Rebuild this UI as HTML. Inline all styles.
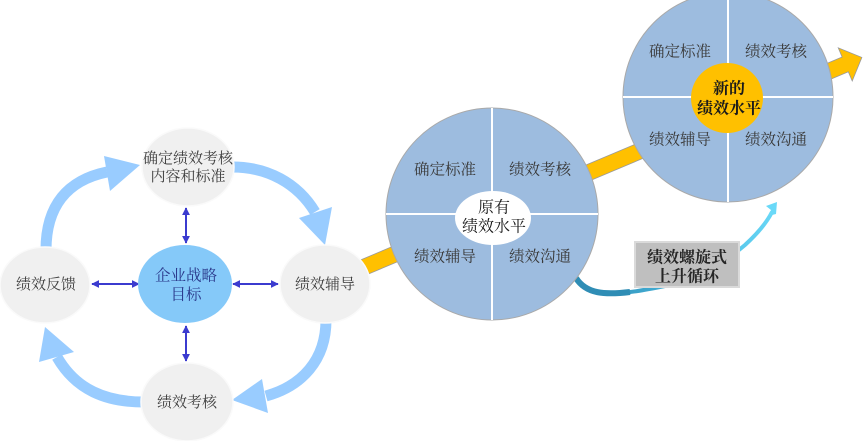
<!DOCTYPE html>
<html>
<head>
<meta charset="utf-8">
<style>
  html, body { margin:0; padding:0; background:#ffffff; }
  body { width:864px; height:441px; overflow:hidden; }
  svg { display:block; }
  text { font-family: "Liberation Serif", "Noto Serif CJK SC", serif; }
</style>
</head>
<body>
<svg width="864" height="441" viewBox="0 0 864 441" xmlns="http://www.w3.org/2000/svg">
  <defs>
    <linearGradient id="teal" x1="575" y1="280" x2="778" y2="205" gradientUnits="userSpaceOnUse">
      <stop offset="0" stop-color="#2f8db5"/>
      <stop offset="0.5" stop-color="#49b8de"/>
      <stop offset="1" stop-color="#6ad9f8"/>
    </linearGradient>
    <marker id="ah" viewBox="0 0 10 10" refX="9" refY="5" markerWidth="4" markerHeight="4" orient="auto-start-reverse">
      <path d="M0,0 L10,5 L0,10 Z" fill="#3b3bcf"/>
    </marker>
  </defs>

  <!-- Yellow band arrow -->
  <g transform="translate(355,271) rotate(-22.85)">
    <polygon points="0,-8 532,-8 532,-18 550,0 532,18 532,8 0,8" fill="#ffc000" stroke="#9a9a9a" stroke-width="0.8"/>
  </g>

  <!-- Light blue cycle arcs -->
  <g fill="none" stroke="#99ccff" stroke-width="11">
    <path d="M46,250 C46,205 68,180 107,172"/>
    <path d="M229,167 C268,166 298,184 315,212"/>
    <path d="M326,320 C326,360 302,386 266,396"/>
    <path d="M144,402 C106,402 76,390 57,357"/>
  </g>
  <g fill="#99ccff">
    <polygon points="104,156 140,165 110,191"/>
    <polygon points="299,218 332,207 325,245"/>
    <polygon points="262,379 268,413 232,400"/>
    <polygon points="39,362 74,352 45,327"/>
  </g>

  <!-- Dark blue double-headed connectors -->
  <g stroke="#3b3bcf" stroke-width="2" fill="none">
    <line x1="186" y1="208" x2="186" y2="243" marker-start="url(#ah)" marker-end="url(#ah)"/>
    <line x1="186" y1="326" x2="186" y2="361" marker-start="url(#ah)" marker-end="url(#ah)"/>
    <line x1="92" y1="284" x2="139" y2="284" marker-start="url(#ah)" marker-end="url(#ah)"/>
    <line x1="233" y1="284" x2="278" y2="284" marker-start="url(#ah)" marker-end="url(#ah)"/>
  </g>

  <!-- Gray cycle nodes -->
  <g fill="#f0f0f0" stroke="#fafafa" stroke-width="1.5">
    <ellipse cx="188" cy="167" rx="46" ry="39"/>
    <ellipse cx="45" cy="285" rx="45" ry="38"/>
    <ellipse cx="325" cy="284" rx="45" ry="39"/>
    <ellipse cx="187" cy="402" rx="46" ry="39"/>
  </g>
  <ellipse cx="185" cy="284" rx="47" ry="39" fill="#85c9f9"/>

  <g font-size="15" fill="#404040" text-anchor="middle" dominant-baseline="central">
    <text x="188" y="159">确定绩效考核</text>
    <text x="188" y="177">内容和标准</text>
    <text x="46" y="285">绩效反馈</text>
    <text x="325" y="285">绩效辅导</text>
    <text x="187" y="403">绩效考核</text>
  </g>
  <g font-size="15.5" fill="#2b3a8c" text-anchor="middle" dominant-baseline="central">
    <text x="186" y="276">企业战略</text>
    <text x="186" y="295">目标</text>
  </g>

  <!-- Teal spiral arrow (behind box) -->
  <path d="M577,278 C590,300 625,294 665,286 C700,278 725,262 745,245 C757,234 766,224 772,212"
        fill="none" stroke="url(#teal)" stroke-width="4" stroke-linecap="butt"/>
  <path d="M576,278 C586,294 605,295 630,292" fill="none" stroke="#2f8db5" stroke-width="6"/>
  <polygon points="777,202 766,206 771,210 768,216 776,214" fill="#6ad9f8"/>

  <!-- Circle 1: original level -->
  <circle cx="492" cy="214" r="106" fill="#9dbcdf" stroke="#a9a9a9" stroke-width="1"/>
  <line x1="492" y1="108" x2="492" y2="320" stroke="#ffffff" stroke-width="2"/>
  <line x1="386" y1="214" x2="598" y2="214" stroke="#ffffff" stroke-width="2"/>
  <ellipse cx="493" cy="218" rx="38" ry="27" fill="#ffffff"/>
  <g font-size="15.5" fill="#3a3a3a" text-anchor="middle" dominant-baseline="central">
    <text x="445" y="170">确定标准</text>
    <text x="540" y="170">绩效考核</text>
    <text x="445" y="257">绩效辅导</text>
    <text x="540" y="257">绩效沟通</text>
  </g>
  <g font-size="16" fill="#1a1a1a" text-anchor="middle" dominant-baseline="central">
    <text x="494" y="208">原有</text>
    <text x="494" y="227">绩效水平</text>
  </g>

  <!-- Circle 2: new level -->
  <circle cx="728" cy="97" r="105" fill="#9dbcdf" stroke="#a9a9a9" stroke-width="1"/>
  <line x1="728" y1="-8" x2="728" y2="202" stroke="#ffffff" stroke-width="2"/>
  <line x1="623" y1="97" x2="833" y2="97" stroke="#ffffff" stroke-width="2"/>
  <ellipse cx="727" cy="98" rx="36" ry="35" fill="#ffc000"/>
  <g font-size="15.5" fill="#3a3a3a" text-anchor="middle" dominant-baseline="central">
    <text x="680" y="52">确定标准</text>
    <text x="776" y="52">绩效考核</text>
    <text x="680" y="140">绩效辅导</text>
    <text x="776" y="140">绩效沟通</text>
  </g>
  <g font-size="16" fill="#1a1a1a" text-anchor="middle" dominant-baseline="central" font-weight="bold">
    <text x="729" y="89">新的</text>
    <text x="729" y="109">绩效水平</text>
  </g>

  <!-- Label box -->
  <rect x="635" y="242" width="104" height="45" fill="#bfbfbf" stroke="#dadada" stroke-width="2"/>
  <g font-size="16" fill="#262626" text-anchor="middle" dominant-baseline="central" font-weight="bold">
    <text x="687" y="258">绩效螺旋式</text>
    <text x="687" y="277">上升循环</text>
  </g>
</svg>
</body>
</html>
